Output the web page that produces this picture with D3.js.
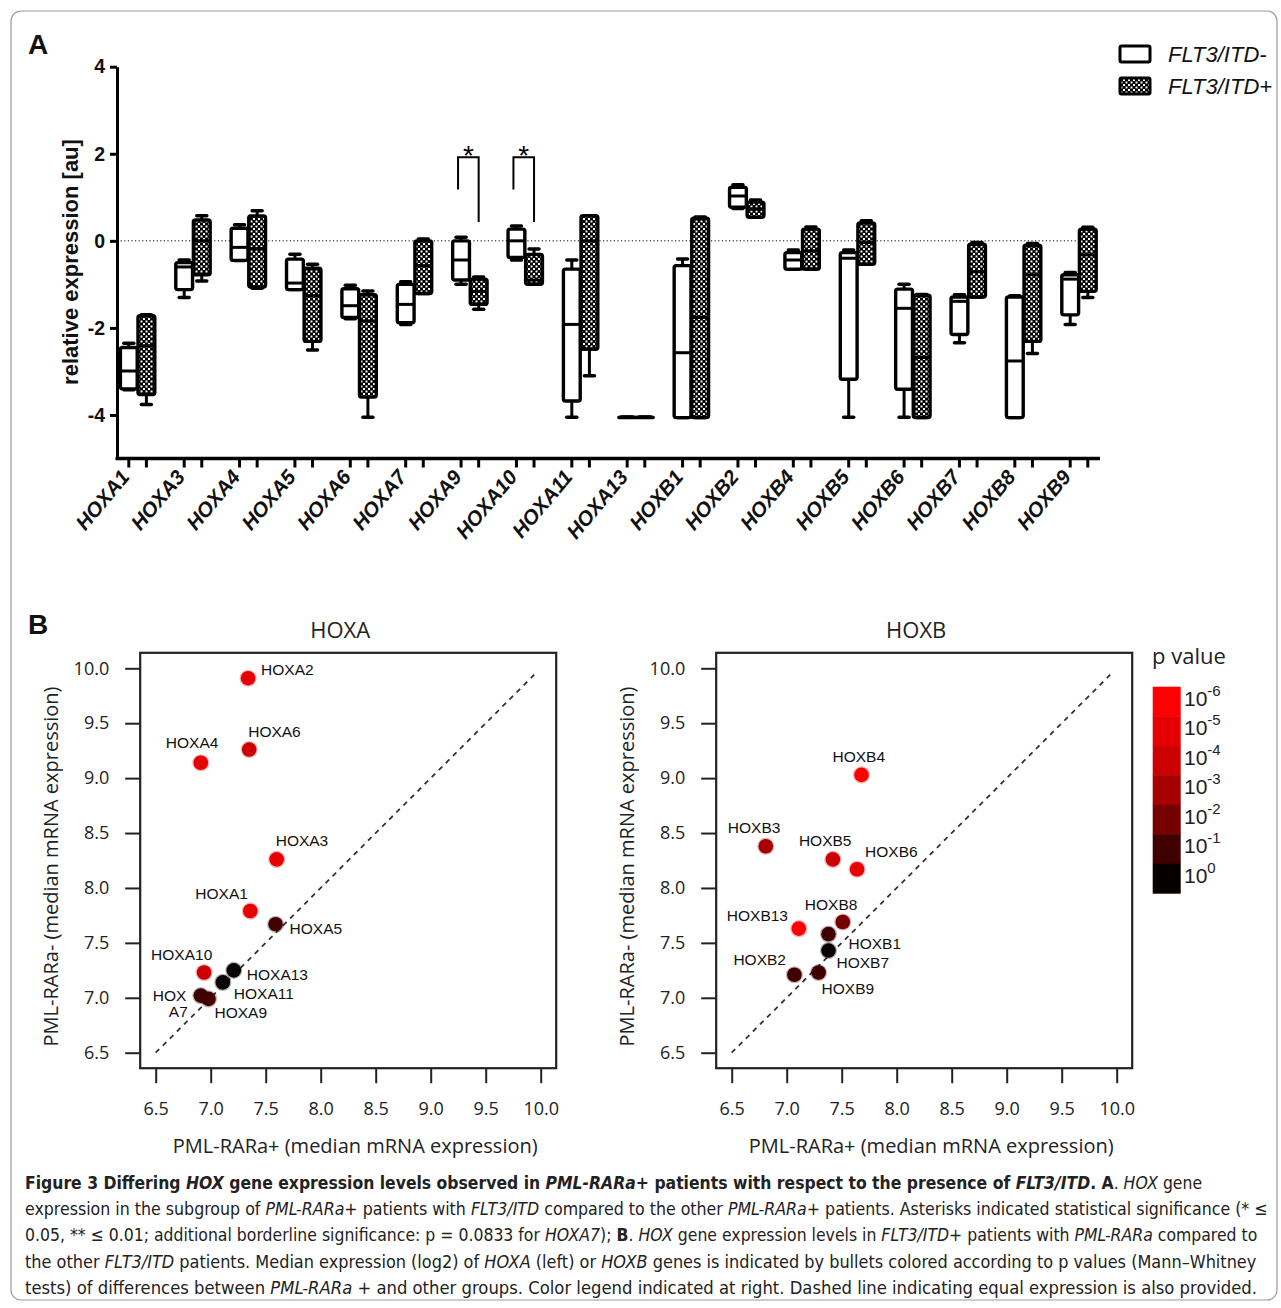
<!DOCTYPE html>
<html>
<head>
<meta charset="utf-8">
<title>HOX expression and FLT3/ITD</title>
<script src="https://d3js.org/d3.v7.min.js"></script>
<style>
  html, body { margin: 0; padding: 0; background: #fff; }
  svg { display: block; }
  .ax { font-family: "Liberation Sans", Arial, sans-serif; font-weight: bold; fill: #111; }
  .osans { font-family: "Open Sans", sans-serif; fill: #222; }
  .lbl { font-family: "Liberation Sans", Arial, sans-serif; font-size: 15.5px; fill: #111; }
  .cap { font-family: "Liberation Sans Narrow", "DejaVu Sans Condensed", sans-serif; font-size: 18px; fill: #222; }
</style>
</head>
<body>
<svg id="fig" width="1281" height="1308"></svg>
<script>
// ---- panel A: box plots, [min, q1, median, q3, max] ----
const genes = ["HOXA1","HOXA3","HOXA4","HOXA5","HOXA6","HOXA7","HOXA9","HOXA10","HOXA11",
               "HOXA13","HOXB1","HOXB2","HOXB4","HOXB5","HOXB6","HOXB7","HOXB8","HOXB9"];
const itdNeg = [
  [-3.42,-3.40,-2.99,-2.45,-2.35], [-1.30,-1.12,-0.60,-0.50,-0.44], [-0.45,-0.45,-0.15,0.29,0.37],
  [-1.12,-1.12,-0.97,-0.42,-0.31], [-1.79,-1.76,-1.49,-1.10,-1.02], [-1.92,-1.88,-1.46,-1.00,-0.94],
  [-1.00,-0.90,-0.44,0.00,0.08],   [-0.44,-0.38,0.00,0.27,0.34],    [-4.05,-3.68,-1.92,-0.65,-0.44],
  [-4.05,-4.05,-4.05,-4.05,-4.05], [-4.06,-4.06,-2.57,-0.57,-0.42], [0.74,0.77,1.03,1.23,1.29],
  [-0.65,-0.65,-0.44,-0.27,-0.21], [-4.05,-3.18,-0.40,-0.27,-0.21], [-4.05,-3.41,-1.55,-1.11,-1.00],
  [-2.34,-2.15,-1.39,-1.29,-1.24], [-4.06,-4.06,-2.76,-1.29,-1.26], [-1.92,-1.70,-0.88,-0.78,-0.73]
];
const itdPos = [
  [-3.76,-3.53,-2.41,-1.72,-1.70], [-0.92,-0.78,0.00,0.48,0.575],  [-1.09,-1.06,-0.18,0.57,0.69],
  [-2.51,-2.31,-1.26,-0.63,-0.54], [-4.05,-3.59,-1.84,-1.24,-1.15], [-1.21,-1.21,-0.57,0.00,0.04],
  [-1.57,-1.46,-1.16,-0.88,-0.83], [-1.00,-1.00,-0.90,-0.31,-0.19], [-3.10,-2.49,0.00,0.575,0.575],
  [-4.05,-4.05,-4.05,-4.05,-4.05], [-4.06,-4.06,-1.76,0.52,0.55],   [0.54,0.54,0.73,0.89,0.94],
  [-0.65,-0.65,-0.23,0.27,0.32],   [-0.54,-0.54,-0.04,0.41,0.46],   [-4.06,-4.06,-2.68,-1.25,-1.23],
  [-1.29,-1.29,-0.71,-0.08,-0.04], [-2.59,-2.31,-0.78,-0.10,-0.06], [-1.30,-1.16,-0.32,0.27,0.31]
];
const groupNames = ["FLT3/ITD-", "FLT3/ITD+"];
const sigGenes = ["HOXA9", "HOXA10"];
const bracketLevels = [1.92, 1.18, 0.43];   // top, left leg end, right leg end
const yTicksA = [4, 2, 0, -2, -4];

// ---- panel B: medians (x: PML-RARa+, y: PML-RARa-), p value exponent ----
const hoxaNames = ["HOXA2","HOXA6","HOXA4","HOXA3","HOXA1","HOXA5","HOXA10","HOXA13","HOXA11","HOXA7","HOXA9"];
const hoxaPlus  = [7.34, 7.35, 6.91, 7.60, 7.36, 7.59, 6.94, 7.21, 7.11, 6.91, 6.98];
const hoxaMinus = [9.91, 9.26, 9.14, 8.26, 7.79, 7.67, 7.23, 7.25, 7.14, 7.02, 6.99];
const hoxaExp   = [-5, -4, -5, -5, -5, -1, -4, 0, 0, -1, -1];

const hoxbNames = ["HOXB4","HOXB3","HOXB5","HOXB6","HOXB13","HOXB8","HOXB1","HOXB7","HOXB2","HOXB9"];
const hoxbPlus  = [7.68, 6.81, 7.42, 7.64, 7.11, 7.51, 7.38, 7.38, 7.07, 7.29];
const hoxbMinus = [9.03, 8.38, 8.26, 8.17, 7.63, 7.69, 7.58, 7.43, 7.21, 7.23];
const hoxbExp   = [-6, -3, -4, -5, -6, -2, -1, 0, -1, -1];

const scatterTicks = [6.5, 7.0, 7.5, 8.0, 8.5, 9.0, 9.5, 10.0];
const pExponents = [-6, -5, -4, -3, -2, -1, 0];
const pColors = ["#ff0000", "#e60000", "#cc0000", "#a60000", "#760000", "#400000", "#060000"];

// label placement (pixels from the bullet, text start / baseline)
const labelPos = {
  HOXA2: [[ "HOXA2", 13, -3]], HOXA6: [["HOXA6", -1, -13]], HOXA4: [["HOXA4", -35, -15]],
  HOXA3: [[ "HOXA3", -1, -13]], HOXA1: [["HOXA1", -55, -12]], HOXA5: [["HOXA5", 14, 10]],
  HOXA10: [["HOXA10", -53, -13]], HOXA13: [["HOXA13", 13, 10]], HOXA11: [["HOXA11", 11, 17]],
  HOXA7: [["HOX", -48, 5], ["A7", -32, 21]], HOXA9: [["HOXA9", 6, 19]],
  HOXB4: [["HOXB4", -29, -13]], HOXB3: [["HOXB3", -38, -13]], HOXB5: [["HOXB5", -34, -13]],
  HOXB6: [["HOXB6", 8, -12]], HOXB13: [["HOXB13", -72, -8]], HOXB8: [["HOXB8", -38, -12]],
  HOXB1: [["HOXB1", 20, 15]], HOXB7: [["HOXB7", 8, 17]], HOXB2: [["HOXB2", -61, -10]],
  HOXB9: [["HOXB9", 3, 21]]
};

const svg = d3.select("#fig");

// frame
svg.append("rect").attr("x", 11).attr("y", 11).attr("width", 1266).attr("height", 1289)
  .attr("rx", 10).attr("fill", "none").attr("stroke", "#9a9a9a").attr("stroke-width", 1.2);

// checkered pattern for FLT3/ITD+
const defs = svg.append("defs");
const pat = defs.append("pattern").attr("id", "chk").attr("patternUnits", "userSpaceOnUse")
  .attr("width", 5).attr("height", 5);
pat.append("rect").attr("width", 5).attr("height", 5).attr("fill", "#000");
pat.append("rect").attr("x", 0.5).attr("y", 0.5).attr("width", 2).attr("height", 2).attr("fill", "#fff");
pat.append("rect").attr("x", 3).attr("y", 3).attr("width", 2).attr("height", 2).attr("fill", "#fff");

// ================= panel A =================
svg.append("text").attr("class", "ax").attr("x", 28).attr("y", 54).attr("font-size", 28).text("A");

const xA = d3.scalePoint().domain(genes).range([137.6, 1079]);
const yA = d3.scaleLinear().domain([-5, 4]).range([458.5, 66.7]);
const sub = d3.scalePoint().domain(groupNames).range([-8.8, 8.8]);
const axisLeftX = 117, axisRightX = 1100;

const gA = svg.append("g");

// dotted zero line
gA.append("line").attr("x1", axisLeftX).attr("x2", axisRightX)
  .attr("y1", yA(0)).attr("y2", yA(0))
  .attr("stroke", "#000").attr("stroke-width", 1).attr("stroke-dasharray", "1.2,2.4");

// y axis (plain hyphen for negatives, as in the figure)
const yAxisA = gA.append("g").attr("transform", `translate(${axisLeftX},0)`)
  .call(d3.axisLeft(yA).tickValues(yTicksA).tickSize(7).tickSizeOuter(0).tickPadding(5).tickFormat(d => String(d)));
yAxisA.select(".domain").attr("stroke-width", 3);
yAxisA.selectAll(".tick line").attr("stroke-width", 3);
yAxisA.selectAll("text").attr("class", "ax").attr("font-size", 19.5);

gA.append("text").attr("class", "ax").attr("font-size", 22)
  .attr("transform", "translate(78,262) rotate(-90)")
  .attr("text-anchor", "middle").text("relative expression [au]");

// x axis
gA.append("line").attr("x1", axisLeftX - 1.5).attr("x2", axisRightX)
  .attr("y1", yA(-5)).attr("y2", yA(-5)).attr("stroke", "#000").attr("stroke-width", 3.5);

const boxData = [];
genes.forEach((g, i) => {
  boxData.push({ gene: g, group: groupNames[0], v: itdNeg[i] });
  boxData.push({ gene: g, group: groupNames[1], v: itdPos[i] });
});
const cx = d => xA(d.gene) + sub(d.group);

gA.selectAll(".xtick").data(boxData).enter().append("line")
  .attr("x1", cx).attr("x2", cx).attr("y1", yA(-5)).attr("y2", yA(-5) + 9)
  .attr("stroke", "#000").attr("stroke-width", 3);

gA.selectAll(".xlab").data(genes).enter().append("text")
  .attr("class", "ax").attr("font-size", 20.5).attr("font-style", "italic")
  .attr("text-anchor", "end")
  .attr("transform", d => `translate(${xA(d) - 7},${yA(-5) + 19}) rotate(-50)`)
  .text(d => d);

// boxes
const halfW = 8.4, capW = 5;
const boxes = gA.selectAll(".box").data(boxData).enter().append("g");
boxes.append("line")
  .attr("x1", cx).attr("x2", cx).attr("y1", d => yA(d.v[0])).attr("y2", d => yA(d.v[4]))
  .attr("stroke", "#000").attr("stroke-width", 3);
boxes.selectAll(".cap").data(d => [[d, d.v[0]], [d, d.v[4]]]).enter().append("line")
  .attr("x1", d => cx(d[0]) - capW).attr("x2", d => cx(d[0]) + capW)
  .attr("y1", d => yA(d[1])).attr("y2", d => yA(d[1]))
  .attr("stroke", "#000").attr("stroke-width", 3.5).attr("stroke-linecap", "round");
boxes.append("rect")
  .attr("x", d => cx(d) - halfW).attr("width", halfW * 2)
  .attr("y", d => yA(d.v[3])).attr("height", d => Math.max(0.5, yA(d.v[1]) - yA(d.v[3])))
  .attr("rx", 2)
  .attr("fill", d => d.group === groupNames[0] ? "#fff" : "url(#chk)")
  .attr("stroke", "#000").attr("stroke-width", 3.4).attr("stroke-linejoin", "round");
boxes.append("line")
  .attr("x1", d => cx(d) - halfW).attr("x2", d => cx(d) + halfW)
  .attr("y1", d => yA(d.v[2])).attr("y2", d => yA(d.v[2]))
  .attr("stroke", "#000").attr("stroke-width", 3);

// significance brackets
sigGenes.forEach(g => {
  const xl = xA(g) + sub(groupNames[0]) - 3, xr = xA(g) + sub(groupNames[1]);
  gA.append("path")
    .attr("d", `M${xl},${yA(bracketLevels[1])} V${yA(bracketLevels[0])} H${xr} V${yA(bracketLevels[2])}`)
    .attr("fill", "none").attr("stroke", "#000").attr("stroke-width", 2);
  gA.append("text").attr("x", (xl + xr) / 2).attr("y", yA(bracketLevels[0]) + 8)
    .attr("text-anchor", "middle").attr("font-family", "Liberation Sans, Arial, sans-serif")
    .attr("font-size", 28).text("*");
});

// legend A
const legA = svg.append("g").attr("transform", "translate(1120,46)");
groupNames.forEach((n, i) => {
  legA.append("rect").attr("x", 0).attr("y", i * 32).attr("width", 30).attr("height", 16).attr("rx", 1.5)
    .attr("fill", i === 0 ? "#fff" : "url(#chk)").attr("stroke", "#000").attr("stroke-width", 3);
  legA.append("text").attr("x", 48).attr("y", i * 32 + 16)
    .attr("font-family", "Liberation Sans, Arial, sans-serif").attr("font-style", "italic")
    .attr("font-size", 22).attr("fill", "#111").text(n);
});

// ================= panel B =================
svg.append("text").attr("class", "ax").attr("x", 28).attr("y", 634).attr("font-size", 28).text("B");

const pColor = d3.scaleOrdinal().domain(pExponents).range(pColors);

function scatter(opt) {
  const x = d3.scaleLinear().domain([6.5, 10]).range([opt.x0, opt.x0 + 385]);
  const y = d3.scaleLinear().domain([6.5, 10]).range([1052.7, 668.3]);
  const pad = 15.5;
  const g = svg.append("g");
  const bx0 = x(6.5) - pad, bx1 = x(10) + pad, by0 = y(10) - pad, by1 = y(6.5) + pad;

  g.append("text").attr("class", "osans").attr("font-size", 22).attr("text-anchor", "middle")
    .attr("x", (bx0 + bx1) / 2 - 8).attr("y", 638).text(opt.title);

  const ya = g.append("g").attr("transform", `translate(${bx0},0)`)
    .call(d3.axisLeft(y).tickValues(scatterTicks).tickSize(15).tickPadding(16).tickFormat(d3.format(".1f")));
  const xa = g.append("g").attr("transform", `translate(0,${by1})`)
    .call(d3.axisBottom(x).tickValues(scatterTicks).tickSize(15).tickPadding(19).tickFormat(d3.format(".1f")));
  [ya, xa].forEach(a => {
    a.select(".domain").remove();
    a.selectAll(".tick line").attr("stroke", "#222").attr("stroke-width", 2);
    a.selectAll("text").attr("class", "osans").attr("font-size", 18);
  });

  g.append("rect").attr("x", bx0).attr("y", by0).attr("width", bx1 - bx0).attr("height", by1 - by0)
    .attr("fill", "none").attr("stroke", "#222").attr("stroke-width", 2.2);

  g.append("line").attr("x1", x(6.5)).attr("y1", y(6.5)).attr("x2", x(9.95)).attr("y2", y(9.95))
    .attr("stroke", "#333").attr("stroke-width", 1.8).attr("stroke-dasharray", "5,5");

  g.append("text").attr("class", "osans").attr("font-size", 20).attr("text-anchor", "middle")
    .attr("x", (bx0 + bx1) / 2 + 7).attr("y", 1153).text("PML-RARa+ (median mRNA expression)");
  g.append("text").attr("class", "osans").attr("font-size", 20).attr("text-anchor", "middle")
    .attr("transform", `translate(${bx0 - 82},${(by0 + by1) / 2 + 6}) rotate(-90)`)
    .text("PML-RARa- (median mRNA expression)");

  const pts = opt.names.map((n, i) => ({ name: n, px: opt.plus[i], py: opt.minus[i], e: opt.exp[i] }));
  g.selectAll(".pt").data(pts).enter().append("circle")
    .attr("cx", d => x(d.px)).attr("cy", d => y(d.py)).attr("r", 7.3)
    .attr("fill", d => pColor(d.e))
    .attr("stroke", d => pColor(d.e)).attr("stroke-opacity", 0.3).attr("stroke-width", 2.5);

  pts.forEach(d => {
    labelPos[d.name].forEach(l => {
      g.append("text").attr("class", "lbl").attr("x", x(d.px) + l[1]).attr("y", y(d.py) + l[2]).text(l[0]);
    });
  });
}

scatter({ x0: 155.7, title: "HOXA", names: hoxaNames, plus: hoxaPlus, minus: hoxaMinus, exp: hoxaExp });
scatter({ x0: 731.7, title: "HOXB", names: hoxbNames, plus: hoxbPlus, minus: hoxbMinus, exp: hoxbExp });

// colour key
const key = svg.append("g");
key.append("text").attr("class", "osans").attr("font-size", 22).attr("x", 1152).attr("y", 664).text("p value");
const cellH = 29.5, keyTop = 686.7;
key.selectAll(".cell").data(pExponents).enter().append("rect")
  .attr("x", 1152.7).attr("width", 28).attr("y", (d, i) => keyTop + i * cellH).attr("height", cellH + 0.5)
  .attr("fill", d => pColor(d));
const keyLab = key.selectAll(".kl").data(pExponents).enter().append("text")
  .attr("font-family", "Liberation Sans, Arial, sans-serif").attr("fill", "#222")
  .attr("x", 1184).attr("y", (d, i) => keyTop + i * cellH + 19).attr("font-size", 21);
keyLab.append("tspan").text("10");
keyLab.append("tspan").attr("dy", -10).attr("font-size", 15).text(d => d === 0 ? "0" : d);

// ================= caption =================
const capLines = [
  [["b","Figure 3 Differing "],["bi","HOX"],["b"," gene expression levels observed in "],["bi","PML-RARa"],
   ["b","+ patients with respect to the presence of "],["bi","FLT3/ITD"],["b",". A"],["n",". "],["i","HOX"],["n"," gene"]],
  [["n","expression in the subgroup of "],["i","PML-RARa+"],["n"," patients with "],["i","FLT3/ITD"],
   ["n"," compared to the other "],["i","PML-RARa+"],["n"," patients. Asterisks indicated statistical significance (* \u2264"]],
  [["n","0.05, ** \u2264 0.01; additional borderline significance: p = 0.0833 for "],["i","HOXA7"],["n","); "],["b","B"],
   ["n",". "],["i","HOX"],["n"," gene expression levels in "],["i","FLT3/ITD+"],["n"," patients with "],["i","PML-RARa"],["n"," compared to"]],
  [["n","the other "],["i","FLT3/ITD"],["n"," patients. Median expression (log2) of "],["i","HOXA"],["n"," (left) or "],["i","HOXB"],
   ["n"," genes is indicated by bullets colored according to p values (Mann\u2013Whitney"]],
  [["n","tests) of differences between "],["i","PML-RARa"],["n"," + and other groups. Color legend indicated at right. Dashed line indicating equal expression is also provided."]]
];
const capEnds = [1203, 1268, 1258, 1257, 1258];
const capX = 25;
capLines.forEach((line, i) => {
  const t = svg.append("text").attr("class", "cap");
  line.forEach(s => {
    t.append("tspan")
      .attr("font-weight", s[0].includes("b") ? "bold" : "normal")
      .attr("font-style", s[0].includes("i") ? "italic" : "normal")
      .text(s[1]);
  });
  // squeeze the line horizontally to the width it has in the figure
  const w = t.node().getComputedTextLength();
  t.attr("transform", `translate(${capX},${1189 + i * 26.2}) scale(${(capEnds[i] - capX) / w},1)`);
});
</script>
</body>
</html>
